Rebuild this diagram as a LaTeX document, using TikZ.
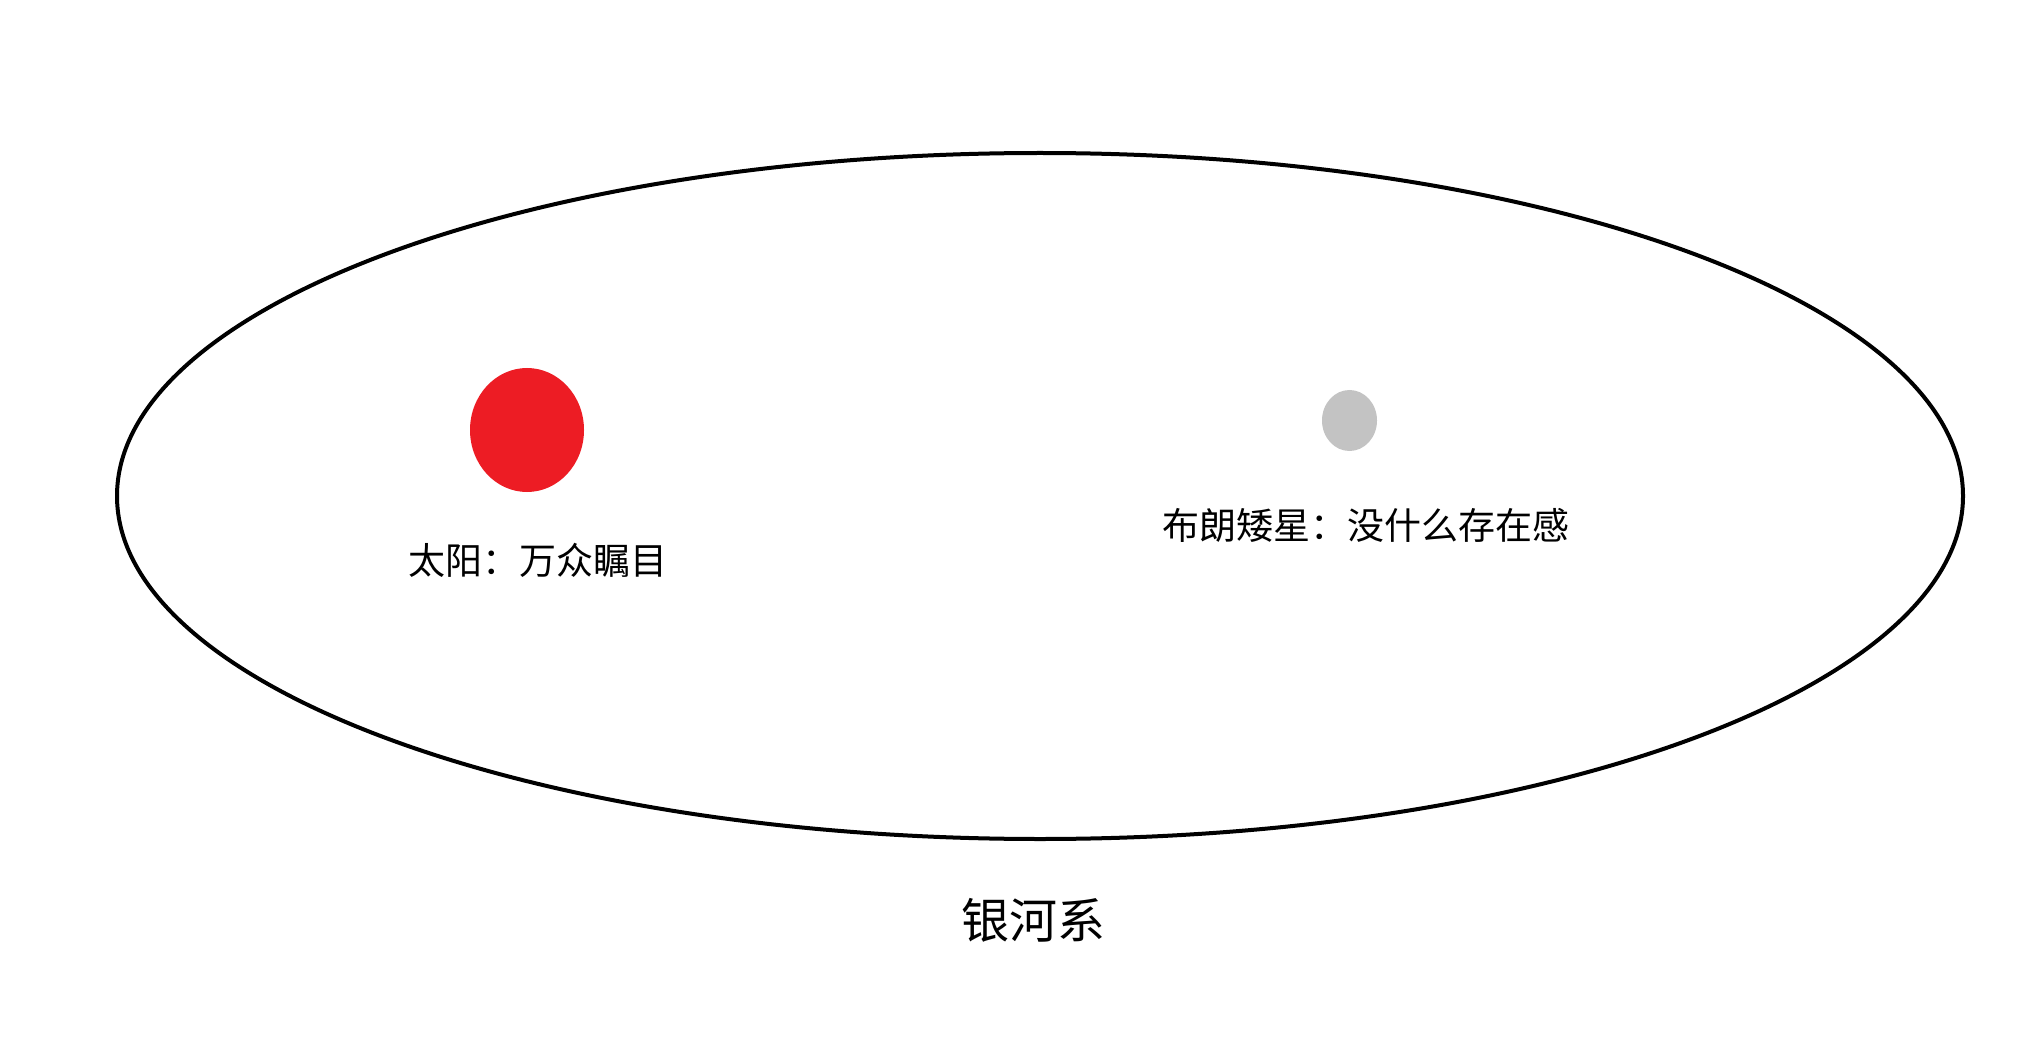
\documentclass[tikz,border=0pt]{standalone}
\usepackage{fontspec}
\setmainfont{Noto Sans CJK SC}
\begin{document}
\begin{tikzpicture}[x=0.5pt,y=-0.5pt,
  galaxy/.style={draw=black,line width=2pt},
  star/.style={draw=none},
  lbl/.style={inner sep=0pt,font=\fontsize{18.5pt}{22pt}\selectfont},
  biglbl/.style={inner sep=0pt,font=\fontsize{24pt}{28pt}\selectfont}]
\definecolor{sunred}{RGB}{237,28,36}
\definecolor{dwarfgray}{RGB}{195,195,195}
\useasboundingbox[fill=white] (0,0) rectangle (2017,1053);
\draw[galaxy] (1040,496) ellipse [x radius=923, y radius=343];
\fill[sunred] (527,430) ellipse [x radius=57, y radius=62];
\fill[dwarfgray] (1349.5,420.5) ellipse [x radius=27.5, y radius=30.5];
\node[lbl] (sun) at (538,560) {太阳：万众瞩目};
\node[lbl] (dwarf) at (1366,525) {布朗矮星：没什么存在感};
\node[biglbl] (milky) at (1033,920) {银河系};
\end{tikzpicture}
\end{document}
